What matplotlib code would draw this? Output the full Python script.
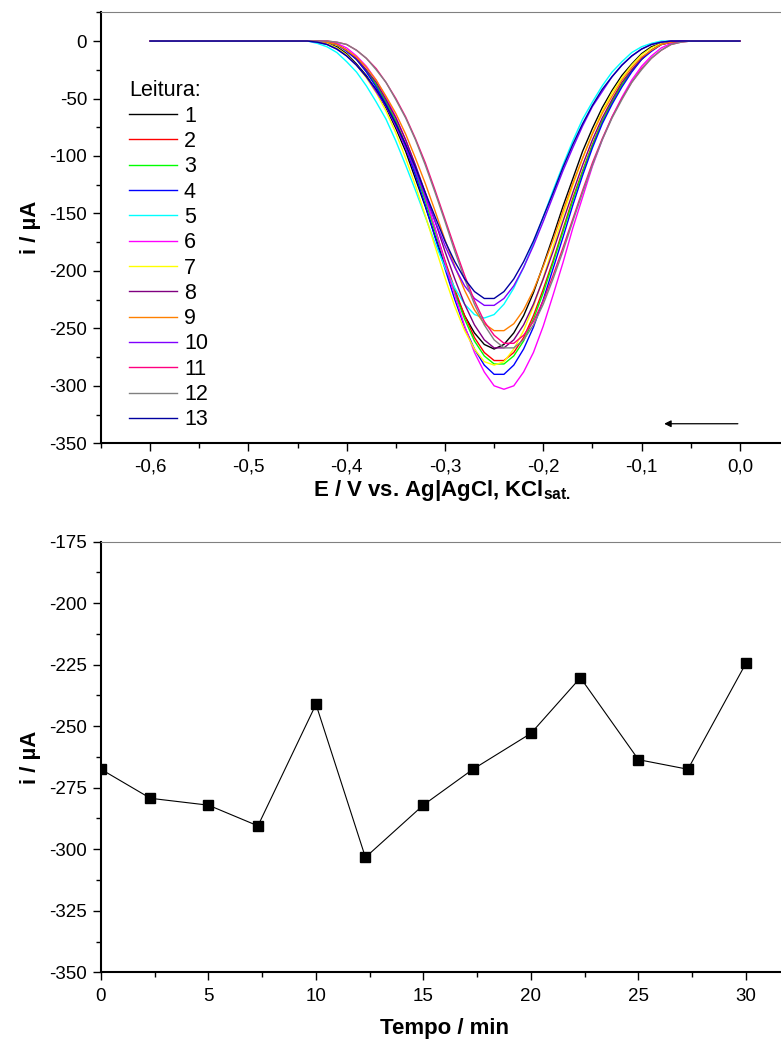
import numpy as np
import matplotlib
matplotlib.use("Agg")
from matplotlib import pyplot as plt
from matplotlib.ticker import MultipleLocator, FuncFormatter

plt.rcParams['font.family'] = ['Liberation Sans', 'DejaVu Sans']
plt.rcParams['axes.unicode_minus'] = False
plt.rcParams['mathtext.fontset'] = 'custom'
plt.rcParams['mathtext.rm'] = 'Liberation Sans'
plt.rcParams['mathtext.bf'] = 'Liberation Sans:bold'
plt.rcParams['mathtext.it'] = 'Liberation Sans:italic'

# potenciais (V) - grade comum a todas as leituras
E = [-0.60, -0.45, -0.44, -0.43, -0.42, -0.41, -0.40, -0.39, -0.38, -0.37, -0.36,
     -0.35, -0.34, -0.33, -0.32, -0.31, -0.30, -0.29, -0.28, -0.27, -0.26,
     -0.25, -0.24, -0.23, -0.22, -0.21, -0.20, -0.19, -0.18, -0.17, -0.16,
     -0.15, -0.14, -0.13, -0.12, -0.11, -0.10, -0.09, -0.08, -0.07, -0.06,
     -0.05, 0.00]

l1 = [0, 0, 0, 0, -2, -5, -11, -20, -30, -43, -58, -76, -96, -120, -144, -170, -195, -219, -239, -254, -264,
      -268, -264, -254, -239, -219, -195, -170, -144, -120, -96, -76, -58, -43, -30, -20, -11, -5, -2, 0, 0, 0, 0]
l2 = [0, 0, 0, 0, -1, -3, -8, -16, -26, -38, -53, -70, -90, -113, -137, -164, -191, -216, -239, -258, -271,
      -278, -278, -271, -258, -239, -216, -191, -164, -137, -113, -90, -70, -53, -38, -26, -16, -8, -3, -1, 0, 0, 0]
l3 = [0, 0, 0, 0, -1, -3, -8, -16, -26, -38, -53, -70, -91, -114, -139, -166, -193, -219, -242, -261, -274,
      -281, -281, -274, -261, -242, -219, -193, -166, -139, -114, -91, -70, -53, -38, -26, -16, -8, -3, -1, 0, 0, 0]
l4 = [0, 0, 0, 0, -1, -3, -9, -16, -27, -40, -55, -72, -93, -117, -143, -171, -198, -225, -249, -268, -282,
      -290, -290, -282, -268, -249, -225, -198, -171, -143, -117, -93, -72, -55, -40, -27, -16, -9, -3, -1, 0, 0, 0]
l5 = [0, 0, 0, -2, -5, -10, -18, -27, -39, -53, -68, -87, -108, -130, -153, -176, -197, -215, -229, -238, -241,
      -238, -229, -215, -197, -176, -153, -130, -108, -87, -68, -53, -39, -27, -18, -10, -5, -2, 0, 0, 0, 0, 0]
l6 = [0, 0, 0, 0, 0, -2, -6, -13, -22, -34, -49, -66, -86, -109, -136, -163, -193, -221, -248, -271, -288,
      -300, -303, -300, -288, -271, -248, -221, -193, -163, -136, -109, -86, -66, -49, -34, -22, -13, -6, -2, 0, 0, 0]
l7 = [0, 0, 0, 0, -2, -6, -12, -21, -32, -45, -61, -80, -102, -126, -152, -179, -206, -231, -252, -268, -279,
      -282, -279, -268, -252, -231, -206, -179, -152, -126, -102, -80, -61, -45, -32, -21, -12, -6, -2, 0, 0, 0, 0]
l8 = [0, 0, 0, 0, -1, -3, -8, -15, -25, -36, -51, -67, -86, -108, -132, -157, -183, -207, -229, -247, -260,
      -267, -267, -260, -247, -229, -207, -183, -157, -132, -108, -86, -67, -51, -36, -25, -15, -8, -3, -1, 0, 0, 0]
l9 = [0, 0, 0, 0, -1, -3, -8, -14, -23, -34, -48, -63, -81, -102, -124, -148, -173, -196, -217, -234, -246,
      -252, -252, -246, -234, -217, -196, -173, -148, -124, -102, -81, -63, -48, -34, -23, -14, -8, -3, -1, 0, 0, 0]
l10 = [0, 0, 0, -1, -3, -7, -13, -21, -31, -44, -57, -74, -93, -113, -135, -157, -178, -197, -213, -224, -230,
       -230, -224, -213, -197, -178, -157, -135, -113, -93, -74, -57, -44, -31, -21, -13, -7, -3, -1, 0, 0, 0, 0]
l11 = [0, 0, 0, 0, 0, -1, -3, -8, -15, -24, -36, -50, -66, -85, -106, -130, -155, -180, -204, -226, -244,
       -256, -263, -263, -256, -244, -226, -204, -180, -155, -130, -106, -85, -66, -50, -36, -24, -15, -8, -3, -1, 0, 0]
l12 = [0, 0, 0, 0, 0, -1, -3, -8, -15, -25, -36, -51, -67, -86, -108, -132, -157, -183, -207, -229, -247,
       -260, -267, -267, -260, -247, -229, -207, -183, -157, -132, -108, -86, -67, -51, -36, -25, -15, -8, -3, -1, 0, 0]
l13 = [0, 0, 0, -1, -3, -7, -13, -21, -31, -42, -56, -72, -90, -110, -132, -153, -174, -192, -207, -218, -224,
       -224, -218, -207, -192, -174, -153, -132, -110, -90, -72, -56, -42, -31, -21, -13, -7, -3, -1, 0, 0, 0, 0]

leituras = [l1, l2, l3, l4, l5, l6, l7, l8, l9, l10, l11, l12, l13]
rotulos = ['1', '2', '3', '4', '5', '6', '7', '8', '9', '10', '11', '12', '13']
cores = ['#000000', '#ff0000', '#00ff00', '#0000ff', '#00ffff', '#ff00ff', '#ffff00',
         '#800080', '#ff8000', '#8000ff', '#ff0080', '#808080', '#0000a0']

# corrente de pico vs tempo
tempo = [0, 2.3, 5, 7.3, 10, 12.3, 15, 17.3, 20, 22.3, 25, 27.3, 30]
i_pico = [-267.5, -279.3, -282.1, -290.5, -241.1, -303.3, -282.0, -267.5, -252.9, -230.3,
          -263.6, -267.5, -224.4]

# seta do sentido de varredura
seta_ini = (-0.002, -333)
seta_fim = (-0.077, -333)

fig = plt.figure(figsize=(7.81, 10.43), dpi=100)
g1 = fig.add_axes([0.1293, 0.5750, 0.8809, 0.4132])
g2 = fig.add_axes([0.1293, 0.0678, 0.8809, 0.4129])

virgola = FuncFormatter(lambda v, p: ("%.1f" % (round(v, 1) + 0.0)).replace('.', ','))

def stile(ax):
    for s in ['left', 'bottom']:
        ax.spines[s].set_linewidth(1.5)
        ax.spines[s].set_color('black')
    ax.spines['top'].set_linewidth(0.8)
    ax.spines['top'].set_color('#808080')
    ax.spines['right'].set_visible(False)
    ax.tick_params(which='both', direction='out', top=False, right=False, width=1.0,
                   labelsize=13.5, colors='black')
    ax.tick_params(which='major', length=6)
    ax.tick_params(which='minor', length=3.5)
    ax.tick_params(axis='x', which='major', pad=5)
    ax.tick_params(axis='y', which='major', pad=4)

# grafico de cima
for y, c, r in zip(leituras, cores, rotulos):
    g1.plot(E, y, color=c, lw=1.0, label=r)
g1.set_xlim(-0.65, 0.05)
g1.set_ylim(-350, 25)
g1.xaxis.set_major_locator(MultipleLocator(0.1))
g1.xaxis.set_minor_locator(MultipleLocator(0.05))
g1.xaxis.set_major_formatter(virgola)
g1.yaxis.set_major_locator(MultipleLocator(50))
g1.yaxis.set_minor_locator(MultipleLocator(25))
stile(g1)
g1.set_xlabel(r'E / V vs. Ag|AgCl, KCl$_{\mathbf{sat.}}$', fontsize=16, fontweight='bold')
g1.set_ylabel('i / µA', fontsize=16, fontweight='bold')
g1.xaxis.set_label_coords(0.495, -0.080)
g1.yaxis.set_label_coords(-0.087, 0.5)
g1.legend(title='Leitura:', loc='upper left', bbox_to_anchor=(0.0407, 0.842), frameon=False,
          fontsize=15.5, title_fontsize=15.5, handlelength=2.23, handletextpad=0.32,
          labelspacing=0.20, borderaxespad=0, borderpad=0, alignment='left')
g1.annotate('', xy=seta_fim, xytext=seta_ini,
            arrowprops=dict(arrowstyle='-|>', color='black', lw=0.9,
                            mutation_scale=10, shrinkA=0, shrinkB=0))

# grafico de baixo
g2.plot(tempo, i_pico, color='black', lw=0.8, marker='s', markersize=7.5, markerfacecolor='black')
g2.set_xlim(0, 32)
g2.set_ylim(-350, -175)
g2.xaxis.set_major_locator(MultipleLocator(5))
g2.xaxis.set_minor_locator(MultipleLocator(2.5))
g2.yaxis.set_major_locator(MultipleLocator(25))
g2.yaxis.set_minor_locator(MultipleLocator(12.5))
stile(g2)
g2.set_xlabel('Tempo / min', fontsize=16, fontweight='bold')
g2.set_ylabel('i / µA', fontsize=16, fontweight='bold')
g2.xaxis.set_label_coords(0.5, -0.106)
g2.yaxis.set_label_coords(-0.087, 0.5)

fig.savefig('out.png', dpi=100)
